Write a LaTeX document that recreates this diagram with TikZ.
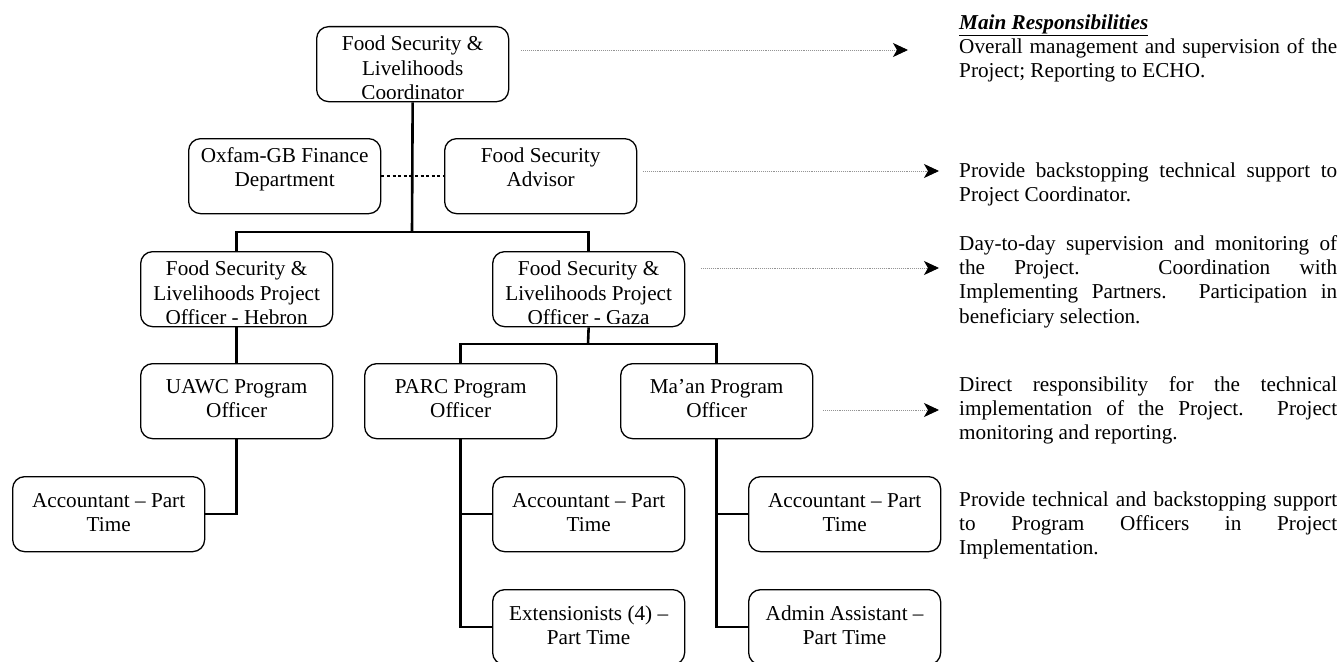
\documentclass[tikz,border=0pt]{standalone}
\usepackage{fontspec}
\setmainfont{Liberation Serif}
\usetikzlibrary{arrows.meta,calc}
\begin{document}
\begin{tikzpicture}[x=1pt,y=-1pt,
  box/.style={draw=black, line width=1.3pt, rounded corners=12pt, minimum width=192pt, minimum height=75pt, inner sep=0pt, anchor=north west},
  txt/.style={anchor=north, align=center, inner sep=0pt, font=\fontsize{21.2}{24.3}\selectfont},
  rtxt/.style={anchor=north west, align=justify, text width=378pt, inner sep=0pt, font=\fontsize{21.2}{24.3}\selectfont, execute at begin node={\hyphenpenalty=10000\relax\exhyphenpenalty=10000\relax}},
  conn/.style={line width=2.6pt, line join=miter},
  findot/.style={line width=2.6pt, dash pattern=on 3pt off 2.6pt},
  resp/.style={draw=gray!85, line width=0.9pt, densely dotted, -{Stealth[color=black,length=15pt,width=14pt,inset=4pt]}}]
\fill[white] (0,0) rectangle (1343,661);
\useasboundingbox (0,0) rectangle (1343,661);

% boxes
\node[box] (coord) at (316,26) {};
\node[box] (fin) at (188,138) {};
\node[box] (adv) at (444,138) {};
\node[box] (heb) at (140,251) {};
\node[box] (gaza) at (492,251) {};
\node[box] (uawc) at (140,363) {};
\node[box] (parc) at (364,363) {};
\node[box] (maan) at (620,363) {};
\node[box] (acc1) at (12,476) {};
\node[box] (acc2) at (492,476) {};
\node[box] (acc3) at (748,476) {};
\node[box] (ext) at (492,589) {};
\node[box] (adm) at (748,589) {};

% box texts
\begin{scope}
\clip (coord.north west) rectangle ($(coord.south east)+(0,-4)$);
\node[txt] (tcoord) at ($(coord.north)+(0,7.5)$) {\strut Food Security \&\\Livelihoods\\Coordinator};
\end{scope}
\begin{scope}
\clip (heb.north west) rectangle ($(heb.south east)+(0,-4)$);
\node[txt] (theb) at ($(heb.north)+(0,7.5)$) {\strut Food Security \&\\Livelihoods Project\\Officer - Hebron};
\end{scope}
\begin{scope}
\clip (gaza.north west) rectangle ($(gaza.south east)+(0,-4)$);
\node[txt] (tgaza) at ($(gaza.north)+(0,7.5)$) {\strut Food Security \&\\Livelihoods Project\\Officer - Gaza};
\end{scope}
\node[txt] (tfin) at ($(fin.north)+(0,7)$) {\strut Oxfam-GB Finance\\Department};
\node[txt] (tadv) at ($(adv.north)+(0,7)$) {\strut Food Security\\Advisor};
\node[txt] (tuawc) at ($(uawc.north)+(0,13)$) {\strut UAWC Program\\Officer};
\node[txt] (tparc) at ($(parc.north)+(0,13)$) {\strut PARC Program\\Officer};
\node[txt] (tmaan) at ($(maan.north)+(0,13)$) {\strut Ma'an Program\\Officer};
\node[txt] (tacc1) at ($(acc1.north)+(0,14)$) {\strut Accountant – Part\\Time};
\node[txt] (tacc2) at ($(acc2.north)+(0,14)$) {\strut Accountant – Part\\Time};
\node[txt] (tacc3) at ($(acc3.north)+(0,14)$) {\strut Accountant – Part\\Time};
\node[txt] (text) at ($(ext.north)+(0,14)$) {\strut Extensionists (4) –\\Part Time};
\node[txt] (tadm) at ($(adm.north)+(0,14)$) {\strut Admin Assistant –\\Part Time};

% connectors
\coordinate (bus1) at (412,232);
\coordinate (bus2) at (588,344);
\draw[findot] (fin.east) -- (adv.west);
\draw[conn] (coord.south) -- (bus1);
\draw[conn] (heb.north) |- (bus1) -| (gaza.north);
\draw[conn] (gaza.south) -- (bus2);
\draw[conn] (parc.north) |- (bus2) -| (maan.north);
\draw[conn] (heb.south) -- (uawc.north);
\draw[conn] (uawc.south) |- (acc1.east);
\draw[conn] (parc.south) |- (ext.west);
\draw[conn] (parc.south) |- (acc2.west);
\draw[conn] (maan.south) |- (adm.west);
\draw[conn] (maan.south) |- (acc3.west);

% responsibilities
\coordinate (a1) at (908,50);
\coordinate (a2) at (939,171);
\coordinate (a3) at (939,268);
\coordinate (a4) at (939,410);
\draw[resp] ($(coord.east |- a1)+(12,0)$) -- (a1);
\draw[resp] ($(adv.east |- a2)+(6,0)$) -- (a2);
\draw[resp] ($(gaza.east |- a3)+(16,0)$) -- (a3);
\draw[resp] ($(maan.east |- a4)+(10,0)$) -- (a4);

\node[rtxt] (rhead) at (959,12) {\strut\underline{\textbf{\textit{Main Responsibilities}}}};
\node[rtxt] (r1) at (959,36) {\strut Overall management and supervision of the\linebreak Project; Reporting to ECHO.};
\node[rtxt] (r2) at (959,160) {\strut Provide backstopping technical support to\linebreak Project Coordinator.};
\node[rtxt] (r3) at (959,233) {\strut Day-to-day supervision and monitoring of\linebreak the Project. Coordination with\linebreak Implementing Partners. Participation in\linebreak beneficiary selection.};
\node[rtxt] (r4) at (959,374) {\strut Direct responsibility for the technical\linebreak implementation of the Project. Project\linebreak monitoring and reporting.};
\node[rtxt] (r5) at (959,489) {\strut Provide technical and backstopping support\linebreak to Program Officers in Project\linebreak Implementation.};
\end{tikzpicture}
\end{document}
